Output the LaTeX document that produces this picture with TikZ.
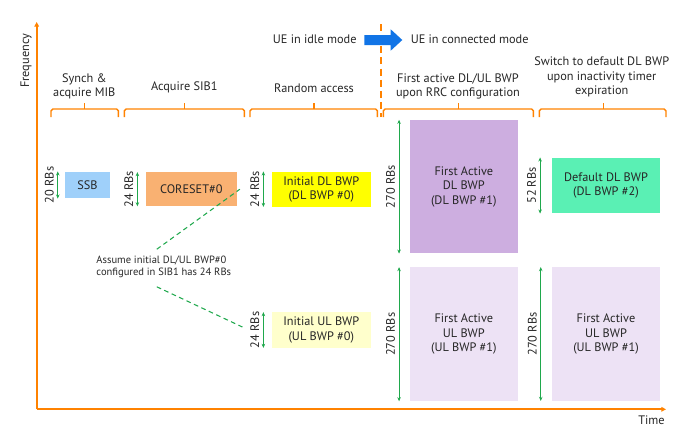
\documentclass[tikz,border=0pt]{standalone}
\usepackage{fontspec}
\setmainfont{PT Sans}
\usetikzlibrary{arrows.meta,calc}
\definecolor{axisorange}{HTML}{FF8200}
\definecolor{rbgreen}{HTML}{1FA84C}
\definecolor{modeblue}{HTML}{1174E6}
\definecolor{ssbblue}{HTML}{9FD0FA}
\definecolor{coresetorange}{HTML}{F9B172}
\definecolor{dlyellow}{HTML}{FFFF00}
\definecolor{ulyellow}{HTML}{FFFFCC}
\definecolor{dlpurple}{HTML}{CDAEE0}
\definecolor{defgreen}{HTML}{5AF0B4}
\definecolor{ulpurple}{HTML}{EDE2F5}
\newcommand{\phasebrace}[3]{%
  \draw[phase] (#1,117) -- (#1,109) -- (#3,109) -- (#3,117);
  \draw[phase] (#2,109) -- (#2,103);}
\begin{document}
\begin{tikzpicture}[x=0.03cm, y=-0.03cm,
  every node/.style={font=\fontsize{10.5}{12.2}\selectfont, text=black!85},
  bwp/.style={inner sep=0pt, align=center},
  rbs/.style={draw=rbgreen, line width=0.9pt, {Stealth[length=3.5pt,width=3pt]}-{Stealth[length=3.5pt,width=3pt]}},
  rblabel/.style={midway, rotate=90, anchor=south, inner sep=3pt},
  phase/.style={draw=axisorange, line width=1.2pt, rounded corners=1.5pt},
  axis/.style={draw=axisorange, line width=1.4pt, -{Triangle[length=4pt,width=4pt]}},
  hint/.style={draw=rbgreen, line width=0.9pt, dash pattern=on 4pt off 3pt}]
  \useasboundingbox (0,0) rectangle (690,438);

  % axes
  \coordinate (O) at (36.7,409.3);
  \coordinate (F) at (36.7,22);
  \coordinate (T) at (666,409.3);
  \draw[axis] (O) -- (F);
  \draw[axis] (O) -- (T);
  \node[rotate=90] (freq) at (26,60.8) {Frequency};
  \node (time) at (651.5,420.7) {Time};

  % idle / connected
  \draw[axisorange, line width=1.4pt, dash pattern=on 6pt off 3.5pt] (380.7,24) -- (380.7,117);
  \fill[modeblue] (364.3,35) -- (390.7,35) -- (390.7,29.3) -- (402.3,40)
    -- (390.7,50.7) -- (390.7,45) -- (364.3,45) -- cycle;
  \node (idle) at (314.7,39.3) {UE in idle mode};
  \node (conn) at (469.7,39.3) {UE in connected mode};

  % phases
  \phasebrace{51}{84.3}{118.3}
  \phasebrace{124.3}{184.3}{244.3}
  \phasebrace{250}{314}{377.3}
  \phasebrace{383.3}{458.3}{533.3}
  \phasebrace{539.3}{603.3}{666}
  \node[align=center] (mib) at (84.3,86.3) {Synch \&\\acquire MIB};
  \node (sib) at (184.3,87.3) {Acquire SIB1};
  \node (rach) at (314,88.3) {Random access};
  \node[align=center] (rrc) at (458,86.6) {First active DL/UL BWP\\upon RRC configuration};
  \node[align=center] (timer) at (601.7,77) {Switch to default DL BWP\\upon inactivity timer\\expiration};

  % bandwidth parts
  \node[bwp, fill=ssbblue, minimum width=1.35cm, minimum height=0.8cm] (ssb) at (87.5,185) {SSB};
  \node[bwp, fill=coresetorange, minimum width=2.72cm, minimum height=1.01cm] (coreset) at (191.3,189.2) {CORESET\#0};
  \node[bwp, fill=dlyellow, minimum width=2.98cm, minimum height=1.05cm] (dl0) at (321.3,189.2) {Initial DL BWP\\(DL BWP \#0)};
  \node[bwp, fill=ulyellow, minimum width=2.98cm, minimum height=1.06cm] (ul0) at (321.3,330) {Initial UL BWP\\(UL BWP \#0)};
  \node[bwp, fill=dlpurple, minimum width=3.23cm, minimum height=4cm] (dl1) at (463.8,186.7) {First Active\\DL BWP\\(DL BWP \#1)};
  \node[bwp, fill=defgreen, minimum width=3.24cm, minimum height=1.67cm] (dl2) at (606,185.5) {Default DL BWP\\(DL BWP \#2)};
  \node[bwp, fill=ulpurple, minimum width=3.23cm, minimum height=4.01cm] (ul1) at (463.8,334.2) {First Active\\UL BWP\\(UL BWP \#1)};
  \node[bwp, fill=ulpurple, minimum width=3.24cm, minimum height=4cm] (ul1b) at (606,334) {First Active\\UL BWP\\(UL BWP \#1)};

  % sizes
  \draw[rbs] ([xshift=-0.21cm]ssb.north west) -- ([xshift=-0.21cm]ssb.south west) node[rblabel] {20 RBs};
  \draw[rbs] ([xshift=-0.25cm]coreset.north west) -- ([xshift=-0.25cm]coreset.south west) node[rblabel] {24 RBs};
  \draw[rbs] ([xshift=-0.24cm]dl0.north west) -- ([xshift=-0.24cm]dl0.south west) node[rblabel] {24 RBs};
  \draw[rbs] ([xshift=-0.24cm]ul0.north west) -- ([xshift=-0.24cm]ul0.south west) node[rblabel] (ulrbs) {24 RBs};
  \draw[rbs] ([xshift=-0.32cm]dl1.north west) -- ([xshift=-0.32cm]dl1.south west) node[rblabel] {270 RBs};
  \draw[rbs] ([xshift=-0.35cm]dl2.north west) -- ([xshift=-0.35cm]dl2.south west) node[rblabel] {52 RBs};
  \draw[rbs] ([xshift=-0.32cm]ul1.north west) -- ([xshift=-0.32cm]ul1.south west) node[rblabel] {270 RBs};
  \draw[rbs] ([xshift=-0.33cm]ul1b.north west) -- ([xshift=-0.33cm]ul1b.south west) node[rblabel] {270 RBs};

  % assumption
  \node[align=left, font=\fontsize{9}{10.7}\selectfont] (note) at (163.8,267) {Assume initial DL/UL BWP\#0\\configured in SIB1 has 24 RBs};
  \draw[hint] ($(note.north)+(-7,-2.5)$) -- ($(coreset.east)+(3,0)$);
  \draw[hint] ($(note.south)+(-7,4.5)$) -- ($(ul0.west)+(-29,-3)$);
\end{tikzpicture}
\end{document}
